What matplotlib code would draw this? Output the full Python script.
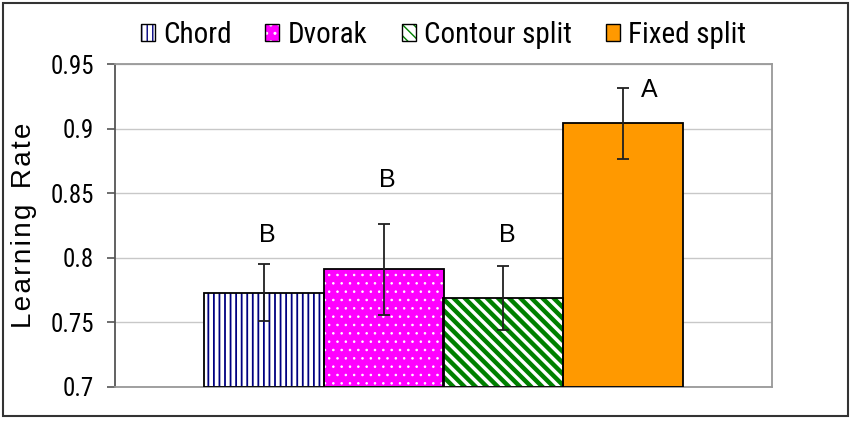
import matplotlib
matplotlib.use("Agg")
import matplotlib.pyplot as plt
from matplotlib.patches import Patch, Rectangle
from matplotlib.legend_handler import HandlerTuple

# data
methods = ["Chord", "Dvorak", "Contour split", "Fixed split"]
rates = [0.773, 0.791, 0.769, 0.904]
errs = [0.022, 0.035, 0.025, 0.0275]
groups = ["B", "B", "B", "A"]
group_x = [0.03, 1.03, 2.03, 3.22]
group_y = [0.818, 0.860, 0.818, 0.930]
yticks = [0.7, 0.75, 0.8, 0.85, 0.9, 0.95]
ytick_labels = ["0.7", "0.75", "0.8", "0.85", "0.9", "0.95"]

faces = ["white", "#FF00FF", "white", "#FF9900"]
hatch_cols = ["#000080", "white", "#008000", "#FF9900"]
hatches = ["|||", "..", "\\\\\\", ""]
hatch_lws = [1.3, 0.6, 3.2, 1.0]

narrow = ["Liberation Sans Narrow", "Arial Narrow", "Roboto Condensed",
          "Archivo Narrow", "DejaVu Sans"]
regular = ["Liberation Sans", "Arimo", "DejaVu Sans"]

fig = plt.figure(figsize=(8.56, 4.26), dpi=100)
ax = fig.add_axes([115 / 856, 39 / 426, 657 / 856, 323 / 426])

x = list(range(len(methods)))
handles = []
for i in x:
    with plt.rc_context({"hatch.linewidth": hatch_lws[i]}):
        ax.bar(x[i], rates[i] - 0.7, bottom=0.7, width=1.0, color=faces[i],
               hatch=hatches[i], edgecolor=hatch_cols[i], linewidth=0, zorder=2)
        key = Patch(facecolor=faces[i], edgecolor=hatch_cols[i],
                    hatch=hatches[i], linewidth=0)
    ax.bar(x[i], rates[i] - 0.7, bottom=0.7, width=1.0, fill=False,
           edgecolor="black", linewidth=1.3, zorder=3)
    handles.append((key, Patch(fill=False, edgecolor="black", linewidth=1.0)))

ax.errorbar(x, rates, yerr=errs, fmt="none", ecolor="#202020",
            elinewidth=1.3, capsize=4, capthick=1.3, zorder=4)

for gx, gy, g in zip(group_x, group_y, groups):
    ax.text(gx, gy, g, ha="center", va="center", fontsize=18,
            family=regular, zorder=5)

ax.set_xlim(-1.243, 4.243)
ax.set_ylim(0.7, 0.95)
ax.set_yticks(yticks)
ax.set_yticklabels(ytick_labels, family=narrow, fontsize=18)
ax.set_xticks([])
ax.tick_params(axis="y", length=6, width=1.2, color="#555555", pad=9)
ax.yaxis.grid(True, color="#C8C8C8", linewidth=1.0, zorder=0)
ax.set_axisbelow(True)

for s in ["top", "right", "bottom"]:
    ax.spines[s].set_color("#999999")
    ax.spines[s].set_linewidth(1.3)
ax.spines["left"].set_color("#555555")
ax.spines["left"].set_linewidth(1.3)

hs = "\u200a"
ax.set_ylabel(hs.join("Learning") + "  " + hs.join("Rate"), family=regular,
              fontsize=20)
ax.yaxis.set_label_coords(-0.118, 0.5)

fig.legend(handles, methods, loc="center", bbox_to_anchor=(443.5 / 856, 1 - 35 / 426),
           ncol=4, frameon=False, prop={"family": narrow, "size": 21},
           handlelength=0.48, handleheight=0.55, handletextpad=0.3,
           columnspacing=1.15, handler_map={tuple: HandlerTuple(ndivide=1)})

fig.patches.append(Rectangle((3 / 856, 10 / 426), 845 / 856, 413 / 426,
                             transform=fig.transFigure, fill=False,
                             edgecolor="#333333", linewidth=1.5))

fig.savefig("out.png", dpi=100)
